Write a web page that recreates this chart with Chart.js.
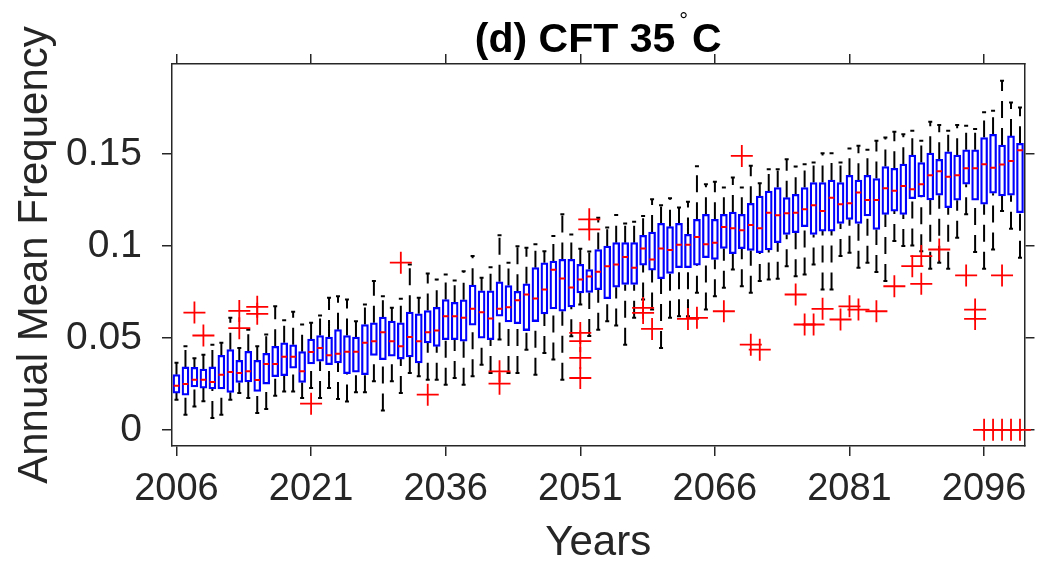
<!DOCTYPE html>
<html>
<head>
<meta charset="utf-8">
<title>CFT 35 box plot</title>
<script src="https://cdn.jsdelivr.net/npm/chart.js@4.4.0/dist/chart.umd.min.js"></script>
<style>
  html, body { margin: 0; padding: 0; background: #fff; }
  #wrap { width: 1038px; height: 562px; position: relative; }
</style>
</head>
<body>
<div id="wrap"><canvas id="boxChart"></canvas></div>
<script>
// one box per year, 2006..2100
const years = Array.from({ length: 95 }, (_, i) => 2006 + i);

const lowerWhisker = [
  0.0164, 0.0082, 0.0127, 0.0155, 0.0064, 0.0082, 0.0164, 0.0200, 0.0173, 0.0091,
  0.0113, 0.0185, 0.0209, 0.0209, 0.0173, 0.0227, 0.0173, 0.0227, 0.0167, 0.0154,
  0.0204, 0.0204, 0.0264, 0.0105, 0.0264, 0.0200, 0.0309, 0.0291, 0.0273, 0.0273,
  0.0245, 0.0282, 0.0245, 0.0291, 0.0354, 0.0309, 0.0491, 0.0309, 0.0309, 0.0436,
  0.0300, 0.0418, 0.0382, 0.0273, 0.0509, 0.0682, 0.0510, 0.0545, 0.0590, 0.0567,
  0.0463, 0.0609, 0.0709, 0.0654, 0.0445, 0.0609, 0.0618, 0.0618, 0.0745, 0.0654,
  0.0727, 0.0773, 0.0872, 0.0781, 0.0745, 0.0809, 0.0818, 0.0822, 0.0890, 0.0836,
  0.0845, 0.0900, 0.0763, 0.0763, 0.0945, 0.0963, 0.0882, 0.0909, 0.0858, 0.0809,
  0.1027, 0.1000, 0.1003, 0.0972, 0.0876, 0.0909, 0.0876, 0.1045, 0.1172, 0.0967,
  0.0876, 0.0981, 0.1190, 0.1094, 0.0936
];
const lowerQuartile = [
  0.0200, 0.0189, 0.0234, 0.0227, 0.0222, 0.0222, 0.0204, 0.0258, 0.0260, 0.0209,
  0.0249, 0.0289, 0.0294, 0.0336, 0.0258, 0.0358, 0.0373, 0.0354, 0.0364, 0.0305,
  0.0314, 0.0300, 0.0405, 0.0382, 0.0400, 0.0385, 0.0396, 0.0364, 0.0473, 0.0454,
  0.0491, 0.0491, 0.0482, 0.0569, 0.0498, 0.0491, 0.0618, 0.0587, 0.0578, 0.0540,
  0.0589, 0.0631, 0.0658, 0.0645, 0.0669, 0.0745, 0.0747, 0.0763, 0.0713, 0.0776,
  0.0791, 0.0791, 0.0896, 0.0869, 0.0822, 0.0851, 0.0882, 0.0882, 0.0896, 0.0936,
  0.0927, 0.0987, 0.0958, 0.0985, 0.0976, 0.0963, 0.0978, 0.1018, 0.1063, 0.1072,
  0.1105, 0.1063, 0.1081, 0.1081, 0.1123, 0.1145, 0.1123, 0.1163, 0.1090, 0.1172,
  0.1190, 0.1172, 0.1258, 0.1267, 0.1250, 0.1276, 0.1209, 0.1249, 0.1336, 0.1249,
  0.1227, 0.1287, 0.1272, 0.1276, 0.1181
];
const medianValue = [
  0.0240, 0.0249, 0.0273, 0.0273, 0.0260, 0.0300, 0.0315, 0.0309, 0.0318, 0.0271,
  0.0358, 0.0358, 0.0398, 0.0398, 0.0318, 0.0424, 0.0445, 0.0405, 0.0414, 0.0425,
  0.0425, 0.0473, 0.0482, 0.0531, 0.0482, 0.0454, 0.0505, 0.0482, 0.0531, 0.0540,
  0.0618, 0.0618, 0.0609, 0.0658, 0.0640, 0.0605, 0.0658, 0.0667, 0.0705, 0.0736,
  0.0714, 0.0763, 0.0871, 0.0823, 0.0774, 0.0818, 0.0834, 0.0860, 0.0890, 0.0900,
  0.0940, 0.0882, 0.0987, 0.0927, 0.0987, 0.0978, 0.1007, 0.1007, 0.1049, 0.1009,
  0.1018, 0.1103, 0.1096, 0.1085, 0.1114, 0.1096, 0.1181, 0.1167, 0.1178, 0.1181,
  0.1200, 0.1221, 0.1190, 0.1263, 0.1227, 0.1232, 0.1291, 0.1250, 0.1250, 0.1314,
  0.1300, 0.1327, 0.1309, 0.1336, 0.1385, 0.1407, 0.1376, 0.1385, 0.1423, 0.1423,
  0.1445, 0.1425, 0.1443, 0.1463, 0.1521
];
const upperQuartile = [
  0.0300, 0.0342, 0.0340, 0.0331, 0.0342, 0.0405, 0.0436, 0.0378, 0.0427, 0.0378,
  0.0416, 0.0454, 0.0473, 0.0463, 0.0425, 0.0494, 0.0513, 0.0505, 0.0545, 0.0513,
  0.0505, 0.0573, 0.0582, 0.0613, 0.0591, 0.0582, 0.0640, 0.0631, 0.0649, 0.0667,
  0.0709, 0.0694, 0.0707, 0.0787, 0.0756, 0.0756, 0.0805, 0.0785, 0.0754, 0.0794,
  0.0882, 0.0909, 0.0918, 0.0927, 0.0927, 0.0900, 0.0872, 0.0981, 0.0999, 0.1018,
  0.1018, 0.1018, 0.1058, 0.1076, 0.1123, 0.1105, 0.1123, 0.1063, 0.1145, 0.1172,
  0.1145, 0.1172, 0.1185, 0.1172, 0.1232, 0.1272, 0.1299, 0.1318, 0.1263, 0.1281,
  0.1318, 0.1345, 0.1345, 0.1359, 0.1345, 0.1385, 0.1358, 0.1385, 0.1367, 0.1432,
  0.1423, 0.1445, 0.1494, 0.1454, 0.1505, 0.1472, 0.1512, 0.1494, 0.1523, 0.1523,
  0.1590, 0.1608, 0.1549, 0.1599, 0.1559
];
const upperWhisker = [
  0.0365, 0.0454, 0.0390, 0.0409, 0.0463, 0.0473, 0.0609, 0.0445, 0.0545, 0.0454,
  0.0518, 0.0672, 0.0596, 0.0642, 0.0573, 0.0582, 0.0622, 0.0718, 0.0727, 0.0709,
  0.0590, 0.0682, 0.0809, 0.0727, 0.0664, 0.0713, 0.0900, 0.0718, 0.0851, 0.0818,
  0.0845, 0.0812, 0.0863, 0.0945, 0.0827, 0.0885, 0.1058, 0.0909, 0.0999, 0.0991,
  0.1009, 0.0972, 0.1054, 0.1172, 0.1063, 0.0985, 0.0970, 0.1154, 0.1100, 0.1169,
  0.1123, 0.1132, 0.1163, 0.1254, 0.1221, 0.1260, 0.1209, 0.1241, 0.1434, 0.1336,
  0.1349, 0.1318, 0.1372, 0.1318, 0.1436, 0.1341, 0.1418, 0.1418, 0.1472, 0.1432,
  0.1445, 0.1454, 0.1505, 0.1505, 0.1454, 0.1531, 0.1545, 0.1523, 0.1572, 0.1590,
  0.1621, 0.1608, 0.1627, 0.1572, 0.1676, 0.1658, 0.1627, 0.1658, 0.1654, 0.1636,
  0.1727, 0.1736, 0.1899, 0.1781, 0.1754
];
// [year, value]
const outliers = [
  [2008, 0.0638], [2009, 0.0513], [2013, 0.0647], [2013, 0.0553], [2015, 0.0669],
  [2015, 0.0631], [2021, 0.0142], [2031, 0.0909], [2034, 0.0191], [2042, 0.0318],
  [2042, 0.0251], [2051, 0.0527], [2051, 0.0482], [2051, 0.0391], [2051, 0.0282],
  [2052, 0.1145], [2052, 0.1090], [2058, 0.0663], [2058, 0.0636], [2059, 0.0549],
  [2063, 0.0603], [2064, 0.0609], [2067, 0.0645], [2069, 0.1490], [2070, 0.0463],
  [2071, 0.0436], [2075, 0.0736], [2076, 0.0573], [2077, 0.0573], [2078, 0.0658],
  [2080, 0.0600], [2081, 0.0672], [2082, 0.0654], [2084, 0.0645], [2086, 0.0781],
  [2088, 0.0890], [2089, 0.0945], [2089, 0.0794], [2091, 0.0981], [2094, 0.0840],
  [2095, 0.0654], [2095, 0.0603], [2096, 0], [2097, 0], [2098, 0.0840], [2098, 0],
  [2099, 0], [2100, 0]
];

const xTickYears = [2006, 2021, 2036, 2051, 2066, 2081, 2096];
const yTickValues = [0, 0.05, 0.1, 0.15];
const yTickLabels = ['0', '0.05', '0.1', '0.15'];

const FONT = '"Liberation Sans", Arial, sans-serif';
const AXIS = '#262626';

const boxData = years.map((yr, i) => ({ x: yr, y: [lowerQuartile[i], upperQuartile[i]] }));
const medianData = years.map((yr, i) => ({ x: yr, y: medianValue[i] }));
const capData = [];
const whiskerData = [];
years.forEach((yr, i) => {
  // lower whisker drawn upward from the adjacent value, upper one from the box
  whiskerData.push({ x: yr, y: lowerWhisker[i] }, { x: yr, y: lowerQuartile[i] }, { x: yr, y: null });
  whiskerData.push({ x: yr, y: upperQuartile[i] }, { x: yr, y: upperWhisker[i] }, { x: yr, y: null });
  capData.push({ x: yr, y: lowerWhisker[i] }, { x: yr, y: upperWhisker[i] });
});
const outlierData = outliers.map(([yr, v]) => ({ x: yr, y: v }));

const frameGrid = {
  drawOnChartArea: false,
  drawTicks: true,
  tickLength: 10,
  color: AXIS,
  lineWidth: 1.5
};
const frameBorder = { display: true, color: AXIS, width: 1.5 };

const titlePlugin = {
  id: 'panelTitle',
  afterDraw(chart) {
    const ctx = chart.ctx;
    const area = chart.chartArea;
    const cx = (area.left + area.right) / 2;
    const base = 52;
    ctx.save();
    ctx.fillStyle = '#000';
    ctx.textBaseline = 'alphabetic';
    ctx.textAlign = 'left';
    const big = 'bold 41px ' + FONT;
    const small = '22px ' + FONT;
    ctx.font = big;
    const main = '(d) CFT 35';
    const wMain = ctx.measureText(main).width;
    const wUnit = ctx.measureText('C').width;
    ctx.font = small;
    const wDeg = ctx.measureText('\u00B0').width;
    const gap = 4;
    const total = wMain + gap + wDeg + gap + wUnit;
    let x = cx - total / 2;
    ctx.font = big;
    ctx.fillText(main, x, base);
    x += wMain + gap;
    ctx.font = small;
    ctx.fillText('\u00B0', x, base - 24);
    x += wDeg + gap;
    ctx.font = big;
    ctx.fillText('C', x, base);
    ctx.restore();
  }
};

new Chart(document.getElementById('boxChart'), {
  type: 'bar',
  data: {
    datasets: [
      {
        type: 'scatter',
        label: 'Outliers',
        data: outlierData,
        pointStyle: 'cross',
        pointRadius: 11,
        borderColor: '#ff0000',
        borderWidth: 1.8,
        clip: false,
        order: 0
      },
      {
        type: 'scatter',
        label: 'Median',
        data: medianData,
        pointStyle: 'line',
        pointRadius: 2.8,
        borderColor: '#ff0000',
        borderWidth: 2,
        order: 1
      },
      {
        type: 'bar',
        label: 'Interquartile range',
        data: boxData,
        backgroundColor: 'rgba(0,0,0,0)',
        borderColor: '#0000ff',
        borderWidth: 1.6,
        borderSkipped: false,
        barThickness: 7,
        grouped: false,
        order: 2
      },
      {
        type: 'scatter',
        label: 'Adjacent values',
        data: capData,
        pointStyle: 'line',
        pointRadius: 2,
        borderColor: '#000',
        borderWidth: 2,
        order: 3
      },
      {
        type: 'line',
        label: 'Whiskers',
        data: whiskerData,
        borderColor: '#000',
        borderWidth: 2,
        borderDash: [17, 10],
        pointRadius: 0,
        spanGaps: false,
        tension: 0,
        order: 4
      }
    ]
  },
  options: {
    responsive: true,
    maintainAspectRatio: false,
    animation: false,
    events: [],
    layout: { padding: 0 },
    plugins: {
      legend: { display: false },
      tooltip: { enabled: false },
      title: { display: false }
    },
    scales: {
      x: {
        type: 'linear',
        position: 'bottom',
        min: 2005.5,
        max: 2100.5,
        offset: false,
        grid: Object.assign({ offset: false }, frameGrid),
        border: frameBorder,
        ticks: {
          autoSkip: false,
          maxRotation: 0,
          padding: 11,
          color: AXIS,
          font: { family: FONT, size: 38 },
          callback: v => String(v)
        },
        afterBuildTicks: s => { s.ticks = xTickYears.map(v => ({ value: v })); },
        afterFit: s => { s.height = 116; },
        title: {
          display: true,
          text: 'Years',
          color: AXIS,
          font: { family: FONT, size: 42, lineHeight: 1 },
          padding: { top: 0, bottom: -2 }
        }
      },
      xTop: {
        type: 'linear',
        position: 'top',
        min: 2005.5,
        max: 2100.5,
        offset: false,
        grid: Object.assign({ offset: false }, frameGrid),
        border: frameBorder,
        ticks: { display: false },
        afterBuildTicks: s => { s.ticks = xTickYears.map(v => ({ value: v })); },
        afterFit: s => { s.height = 64; }
      },
      y: {
        type: 'linear',
        position: 'left',
        min: -0.0088,
        max: 0.199,
        grid: frameGrid,
        border: frameBorder,
        ticks: {
          padding: 20,
          color: AXIS,
          font: { family: FONT, size: 39 },
          callback: (v, i) => yTickLabels[i]
        },
        afterBuildTicks: s => { s.ticks = yTickValues.map(v => ({ value: v })); },
        afterFit: s => { s.width = 172; },
        title: {
          display: true,
          text: 'Annual Mean Frequency',
          color: AXIS,
          font: { family: FONT, size: 42, lineHeight: 1 },
          padding: { top: 14, bottom: 0 }
        }
      },
      yRight: {
        type: 'linear',
        position: 'right',
        min: -0.0088,
        max: 0.199,
        grid: frameGrid,
        border: frameBorder,
        ticks: { display: false },
        afterBuildTicks: s => { s.ticks = yTickValues.map(v => ({ value: v })); },
        afterFit: s => { s.width = 7; }
      }
    }
  },
  plugins: [titlePlugin]
});
</script>
</body>
</html>
